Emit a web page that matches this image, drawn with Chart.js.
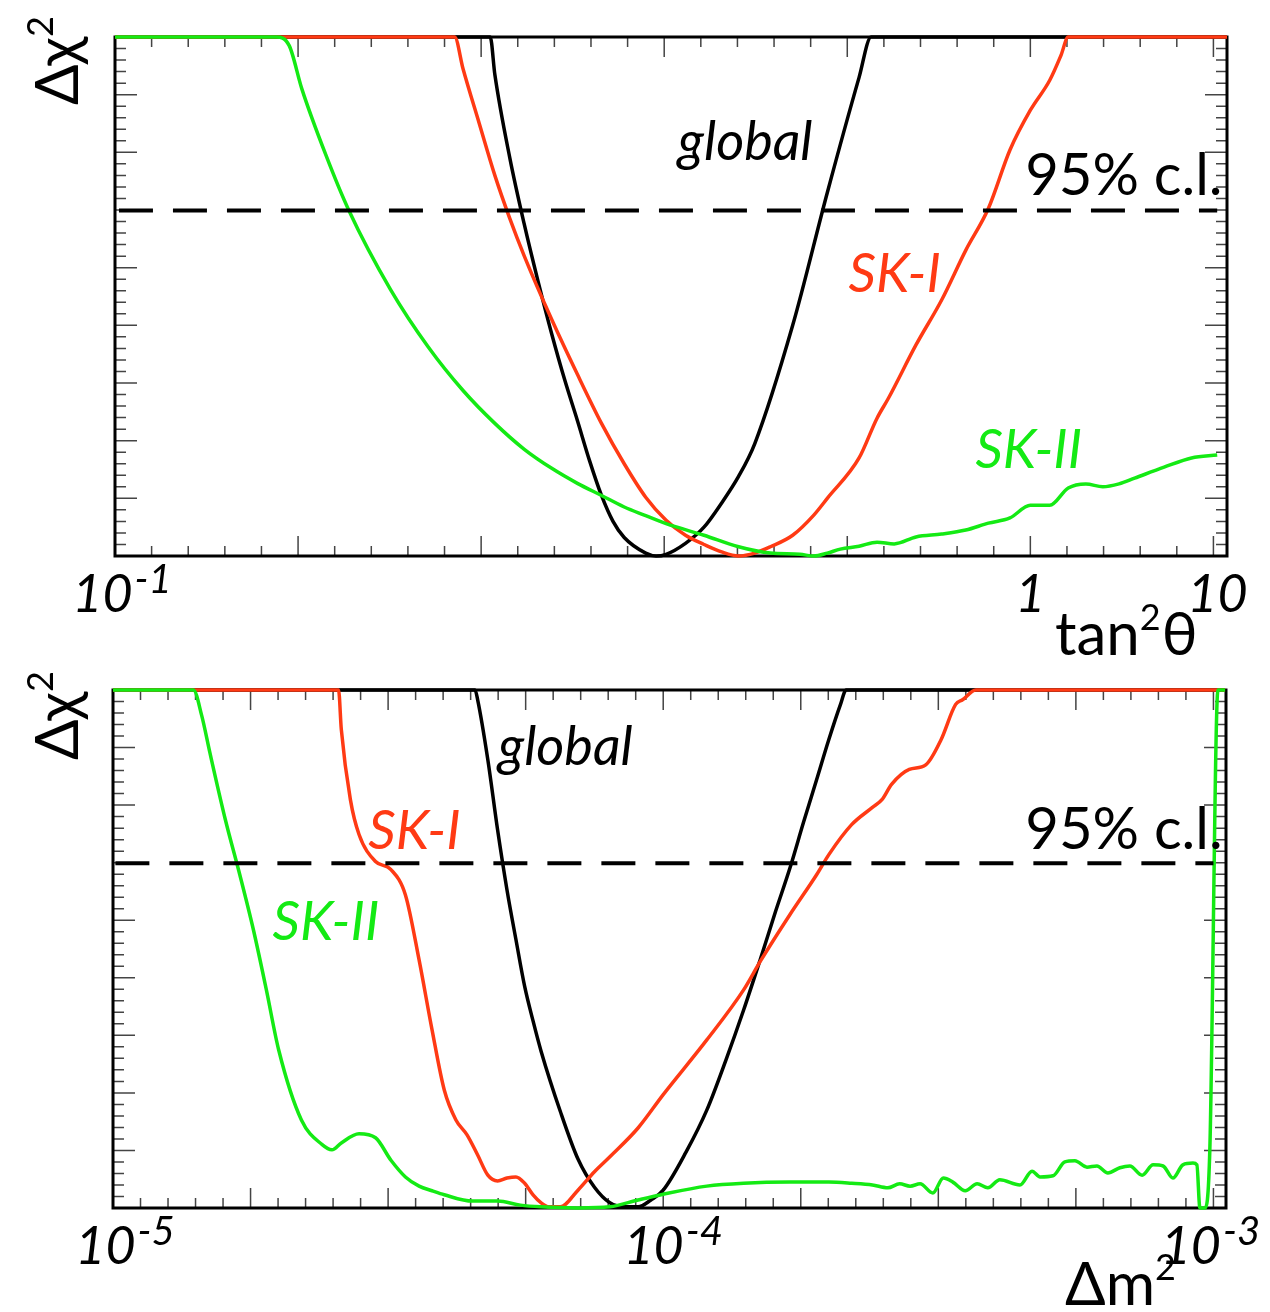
<!DOCTYPE html>
<html>
<head>
<meta charset="utf-8">
<title>SK solar oscillation scans</title>
<script src="https://cdn.jsdelivr.net/npm/chart.js@4.4.1/dist/chart.umd.min.js"></script>
<style>
  body { margin: 0; background: #fff; }
  #page { position: relative; width: 1270px; height: 1312px; overflow: hidden; background: #fff; }
  #page canvas { position: absolute; left: 0; }
</style>
</head>
<body>
<div id="page">
  <canvas id="mixChart" width="1270" height="660" style="top:0"></canvas>
  <canvas id="dmChart" width="1270" height="662" style="top:650px"></canvas>
</div>
<script>
// ---- delta chi^2 vs tan^2(theta) ----
const mixGlobalX = [0.1, 0.257, 0.26, 0.27, 0.28, 0.29, 0.30, 0.31, 0.32, 0.33, 0.34, 0.35, 0.36, 0.38, 0.39, 0.40, 0.42, 0.44, 0.46, 0.48, 0.50, 0.55, 0.60, 0.65, 0.67, 1.64];
const mixGlobalY = [9, 9, 8.35, 6.90, 5.75, 4.75, 3.85, 3.05, 2.35, 1.65, 1.05, 0.60, 0.32, 0.05, 0, 0.03, 0.22, 0.50, 0.92, 1.38, 1.95, 4.00, 6.30, 8.30, 9, 9];

const mixSk1X = [0.1, 0.235, 0.24, 0.25, 0.26, 0.27, 0.28, 0.30, 0.32, 0.34, 0.36, 0.38, 0.40, 0.42, 0.44, 0.46, 0.48, 0.50, 0.52, 0.55, 0.58, 0.60, 0.65, 0.68, 0.70, 0.75, 0.80, 0.85, 0.90, 0.95, 1.0, 1.05, 1.08, 1.1, 1.64];
const mixSk1Y = [9, 9, 8.45, 7.50, 6.60, 5.85, 5.20, 4.10, 3.15, 2.30, 1.60, 1.02, 0.62, 0.36, 0.20, 0.07, 0, 0.05, 0.16, 0.36, 0.71, 1.0, 1.70, 2.39, 2.74, 3.66, 4.44, 5.30, 6.03, 7.04, 7.73, 8.25, 8.68, 9, 9];

const mixSk2X = [0.1, 0.15, 0.155, 0.16, 0.17, 0.18, 0.2, 0.22, 0.24, 0.26, 0.28, 0.30, 0.32, 0.34, 0.36, 0.38, 0.40, 0.44, 0.48, 0.52, 0.56, 0.58, 0.60, 0.62, 0.65, 0.68, 0.71, 0.75, 0.80, 0.85, 0.90, 0.95, 1.0, 1.05, 1.1, 1.15, 1.2, 1.25, 1.3, 1.4, 1.5, 1.6];
const mixSk2Y = [9, 9, 8.85, 8.10, 6.95, 6.00, 4.62, 3.62, 2.87, 2.30, 1.85, 1.52, 1.26, 1.05, 0.85, 0.70, 0.56, 0.36, 0.16, 0.05, 0.03, 0, 0.05, 0.12, 0.17, 0.24, 0.21, 0.33, 0.38, 0.45, 0.57, 0.66, 0.88, 0.88, 1.18, 1.25, 1.20, 1.25, 1.35, 1.54, 1.70, 1.75];

// ---- delta chi^2 vs delta m^2 ----
const dmGlobalX = [1.0e-5, 4.55e-5, 4.6e-5, 4.8e-5, 5.0e-5, 5.2e-5, 5.4e-5, 5.6e-5, 5.8e-5, 6.0e-5, 6.5e-5, 7.0e-5, 7.5e-5, 8.0e-5, 8.5e-5, 9.0e-5, 9.5e-5, 1.0e-4, 1.1e-4, 1.2e-4, 1.3e-4, 1.4e-4, 1.5e-4, 1.6e-4, 1.7e-4, 1.8e-4, 1.9e-4, 2.0e-4, 2.1e-4, 2.15e-4, 1.05e-3];
const dmGlobalY = [9, 9, 8.83, 7.79, 6.57, 5.53, 4.66, 3.85, 3.25, 2.72, 1.68, 0.85, 0.36, 0.09, 0.02, 0.02, 0.14, 0.31, 0.97, 1.70, 2.57, 3.44, 4.31, 5.15, 5.91, 6.71, 7.44, 8.14, 8.75, 9, 9];

const dmSk1X = [1.0e-5, 2.57e-5, 2.6e-5, 2.7e-5, 2.8e-5, 3.0e-5, 3.2e-5, 3.4e-5, 3.6e-5, 3.8e-5, 4.0e-5, 4.2e-5, 4.4e-5, 4.6e-5, 4.8e-5, 5.0e-5, 5.2e-5, 5.4e-5, 5.6e-5, 5.8e-5, 6.0e-5, 6.2e-5, 6.5e-5, 7.0e-5, 7.5e-5, 8.0e-5, 9.0e-5, 1.0e-4, 1.2e-4, 1.4e-4, 1.5e-4, 1.7e-4, 1.9e-4, 2.0e-4, 2.2e-4, 2.4e-4, 2.5e-4, 2.6e-4, 2.8e-4, 3.0e-4, 3.2e-4, 3.4e-4, 3.5e-4, 3.7e-4, 1.05e-3];
const dmSk1Y = [9, 9, 8.31, 7.10, 6.49, 6.02, 5.88, 5.44, 4.31, 3.10, 2.05, 1.53, 1.27, 0.92, 0.57, 0.47, 0.52, 0.54, 0.43, 0.23, 0.09, 0.02, 0.02, 0.31, 0.63, 0.89, 1.39, 1.97, 2.92, 3.79, 4.28, 5.10, 5.79, 6.14, 6.66, 6.96, 7.10, 7.36, 7.62, 7.70, 8.14, 8.75, 8.83, 9, 9];

const dmSk2X = [1.0e-5, 1.4e-5, 1.45e-5, 1.5e-5, 1.6e-5, 1.7e-5, 1.8e-5, 1.9e-5, 2.0e-5, 2.2e-5, 2.4e-5, 2.5e-5, 2.6e-5, 2.8e-5, 3.0e-5, 3.2e-5, 3.4e-5, 3.6e-5, 3.8e-5, 4.0e-5, 4.5e-5, 5.0e-5, 5.5e-5, 6.0e-5, 7.0e-5, 8.0e-5, 9.0e-5, 1.0e-4, 1.2e-4, 1.4e-4, 1.7e-4, 2.0e-4, 2.2e-4, 2.4e-4, 2.56e-4, 2.69e-4, 2.81e-4, 2.93e-4, 3.09e-4, 3.23e-4, 3.36e-4, 3.54e-4, 3.72e-4, 3.89e-4, 4.09e-4, 4.45e-4, 4.68e-4, 4.84e-4, 5.11e-4, 5.37e-4, 5.60e-4, 5.89e-4, 6.14e-4, 6.43e-4, 6.76e-4, 7.05e-4, 7.42e-4, 7.77e-4, 8.10e-4, 8.44e-4, 8.80e-4, 9.18e-4, 9.33e-4, 9.45e-4, 9.65e-4, 9.85e-4, 1.019e-3, 1.05e-3];
const dmSk2Y = [9, 9, 8.55, 7.91, 6.75, 5.79, 4.83, 3.79, 2.75, 1.53, 1.10, 1.01, 1.13, 1.29, 1.22, 0.83, 0.54, 0.38, 0.30, 0.23, 0.12, 0.12, 0.05, 0.02, 0, 0.02, 0.14, 0.24, 0.38, 0.43, 0.45, 0.45, 0.43, 0.40, 0.35, 0.42, 0.38, 0.42, 0.26, 0.52, 0.45, 0.30, 0.42, 0.35, 0.49, 0.40, 0.64, 0.54, 0.56, 0.80, 0.82, 0.71, 0.73, 0.61, 0.70, 0.73, 0.57, 0.75, 0.73, 0.52, 0.75, 0.78, 0.75, 0, 0, 1.01, 9, 9];

// 95% c.l. level for two parameters
const CL95 = 5.99;

// x-axis labels: mantissa, exponent, position
const mixLabelBase = ['10', '1', '10'];
const mixLabelExp = ['-1', '', ''];
const mixLabelAt = [0.1, 1, 1.585];
const dmLabelBase = ['10', '10', '10'];
const dmLabelExp = ['-5', '-4', '-3'];
const dmLabelAt = [1e-5, 1e-4, 1e-3];

const RED = '#ff3a14';
const GREEN = '#14ea14';
const FONT = 'Lato, "Open Sans", "DejaVu Sans", sans-serif';

function logTicks(min, max, step, perMajor) {
  const out = [];
  const lo = Math.log10(min), hi = Math.log10(max);
  for (let k = 0; lo + k * step <= hi + 1e-9; k++) {
    out.push({ v: Math.pow(10, lo + k * step), major: k % perMajor === 0 });
  }
  return out;
}

const yTickList = [];
for (let k = 0; k <= 45; k++) yTickList.push({ v: k * 0.2, major: k % 5 === 0 });

function pairs(xs, ys) {
  return xs.map((x, i) => ({ x: x, y: ys[i] }));
}

// mantissa with a raised exponent, centred on cx
function drawPower(ctx, base, exp, cx, baseline, size, style) {
  const big = style + size + 'px ' + FONT;
  const small = style + Math.round(size * 0.77) + 'px ' + FONT;
  ctx.font = big;
  const w1 = ctx.measureText(base).width;
  ctx.font = small;
  const w2 = exp ? ctx.measureText(exp).width + 2 : 0;
  let x = cx - (w1 + w2) / 2;
  ctx.font = big;
  ctx.fillText(base, x, baseline);
  if (exp) {
    ctx.font = small;
    ctx.fillText(exp, x + w1 + 2, baseline - size * 0.36);
  }
}

// text with a small raised "2" inside, e.g. tan^2 theta
function drawTitle(ctx, parts, x, baseline, size) {
  parts.forEach(p => {
    const sup = p.sup;
    ctx.font = (sup ? Math.round(size * 0.6) : size) + 'px ' + FONT;
    ctx.fillText(p.t, x, sup ? baseline - size * 0.42 : baseline);
    x += ctx.measureText(p.t).width + (sup ? 1 : 0);
  });
}

function rootFrame(cfg) {
  return {
    id: 'rootFrame',
    beforeDatasetsDraw(chart) {
      const { ctx, chartArea: a, scales } = chart;
      ctx.save();
      ctx.strokeStyle = '#444';
      ctx.lineWidth = 1.5;
      ctx.beginPath();
      cfg.xTicks.forEach(t => {
        const px = scales.x.getPixelForValue(t.v);
        const len = t.major ? 20 : 10;
        ctx.moveTo(px, a.bottom); ctx.lineTo(px, a.bottom - len);
        ctx.moveTo(px, a.top); ctx.lineTo(px, a.top + len);
      });
      yTickList.forEach(t => {
        const py = scales.y.getPixelForValue(t.v);
        const len = t.major ? 22 : 11;
        ctx.moveTo(a.left, py); ctx.lineTo(a.left + len, py);
        ctx.moveTo(a.right, py); ctx.lineTo(a.right - len, py);
      });
      ctx.stroke();
      ctx.strokeStyle = '#000';
      ctx.lineWidth = 3;
      ctx.strokeRect(a.left, a.top, a.right - a.left, a.bottom - a.top);
      ctx.restore();
    },
    afterDraw(chart) {
      const { ctx, chartArea: a, scales } = chart;
      ctx.save();
      ctx.fillStyle = '#000';
      ctx.textBaseline = 'alphabetic';
      ctx.textAlign = 'left';
      // axis numbers
      cfg.labelAt.forEach((v, i) => {
        const cx = scales.x.getPixelForValue(v) + cfg.labelShift[i];
        drawPower(ctx, cfg.labelBase[i], cfg.labelExp[i], cx, a.bottom + 56, 52, 'italic ');
      });
      // curve names and c.l. tag
      cfg.notes.forEach(n => {
        ctx.fillStyle = n.color;
        ctx.font = (n.italic ? 'italic ' : '') + n.size + 'px ' + FONT;
        ctx.fillText(n.text, scales.x.getPixelForValue(n.x), scales.y.getPixelForValue(n.y));
      });
      ctx.fillStyle = '#000';
      // x title
      drawTitle(ctx, cfg.xTitle, cfg.xTitlePos[0], cfg.xTitlePos[1], 60);
      // rotated y title
      ctx.translate(78, cfg.yTitleBottom);
      ctx.rotate(-Math.PI / 2);
      drawTitle(ctx, [{ t: '\u0394\u03c7' }, { t: '2', sup: true }], 0, 0, 60);
      ctx.restore();
    }
  };
}

function curve(xs, ys, color, order) {
  return {
    data: pairs(xs, ys),
    borderColor: color,
    borderWidth: 3.5,
    pointRadius: 0,
    fill: false,
    cubicInterpolationMode: 'monotone',
    clip: 4,
    order: order
  };
}

function clLine(x0, x1) {
  return {
    data: [{ x: x0, y: CL95 }, { x: x1, y: CL95 }],
    borderColor: '#000',
    borderWidth: 4,
    borderDash: [34, 20],
    pointRadius: 0,
    fill: false,
    order: 0
  };
}

function makeChart(id, cfg) {
  return new Chart(document.getElementById(id), {
    type: 'line',
    data: { datasets: cfg.datasets },
    options: {
      responsive: false,
      animation: false,
      events: [],
      layout: { padding: cfg.padding },
      plugins: { legend: { display: false }, tooltip: { enabled: false } },
      scales: {
        x: { type: 'logarithmic', min: cfg.xMin, max: cfg.xMax, display: false },
        y: { type: 'linear', min: 0, max: 9, display: false }
      }
    },
    plugins: [rootFrame(cfg)]
  });
}

makeChart('mixChart', {
  xMin: 0.1, xMax: 1.64,
  padding: { left: 115, right: 43, top: 37, bottom: 104 },
  datasets: [
    clLine(0.101, 1.6),
    curve(mixSk2X, mixSk2Y, GREEN, 1),
    curve(mixSk1X, mixSk1Y, RED, 2),
    curve(mixGlobalX, mixGlobalY, '#000', 3)
  ],
  xTicks: logTicks(0.1, 1.64, 0.04, 5),
  labelBase: mixLabelBase, labelExp: mixLabelExp, labelAt: mixLabelAt,
  labelShift: [7, 0, 4],
  notes: [
    { text: 'global', x: 0.412, y: 6.86, color: '#000', italic: true, size: 54 },
    { text: '95% c.l.', x: 0.987, y: 6.26, color: '#000', italic: false, size: 58 },
    { text: 'SK-I', x: 0.633, y: 4.58, color: RED, italic: true, size: 54 },
    { text: 'SK-II', x: 0.871, y: 1.53, color: GREEN, italic: true, size: 54 }
  ],
  xTitle: [{ t: 'tan' }, { t: '2', sup: true }, { t: '\u03b8' }],
  xTitlePos: [1055, 655],
  yTitleBottom: 105
});

makeChart('dmChart', {
  xMin: 1e-5, xMax: 1.054e-3,
  padding: { left: 113, right: 44, top: 40, bottom: 104 },
  datasets: [
    clLine(1.01e-5, 1.0e-3),
    curve(dmSk2X, dmSk2Y, GREEN, 1),
    curve(dmSk1X, dmSk1Y, RED, 2),
    curve(dmGlobalX, dmGlobalY, '#000', 3)
  ],
  xTicks: logTicks(1e-5, 1.054e-3, 0.05, 5),
  labelBase: dmLabelBase, labelExp: dmLabelExp, labelAt: dmLabelAt,
  labelShift: [12, 10, -3],
  notes: [
    { text: 'global', x: 5.01e-5, y: 7.70, color: '#000', italic: true, size: 54 },
    { text: 'SK-I', x: 2.91e-5, y: 6.23, color: RED, italic: true, size: 54 },
    { text: '95% c.l.', x: 4.55e-4, y: 6.23, color: '#000', italic: false, size: 58 },
    { text: 'SK-II', x: 1.95e-5, y: 4.66, color: GREEN, italic: true, size: 54 }
  ],
  xTitle: [{ t: '\u0394m' }, { t: '2', sup: true }],
  xTitlePos: [1065, 655],
  yTitleBottom: 110
});
</script>
</body>
</html>
